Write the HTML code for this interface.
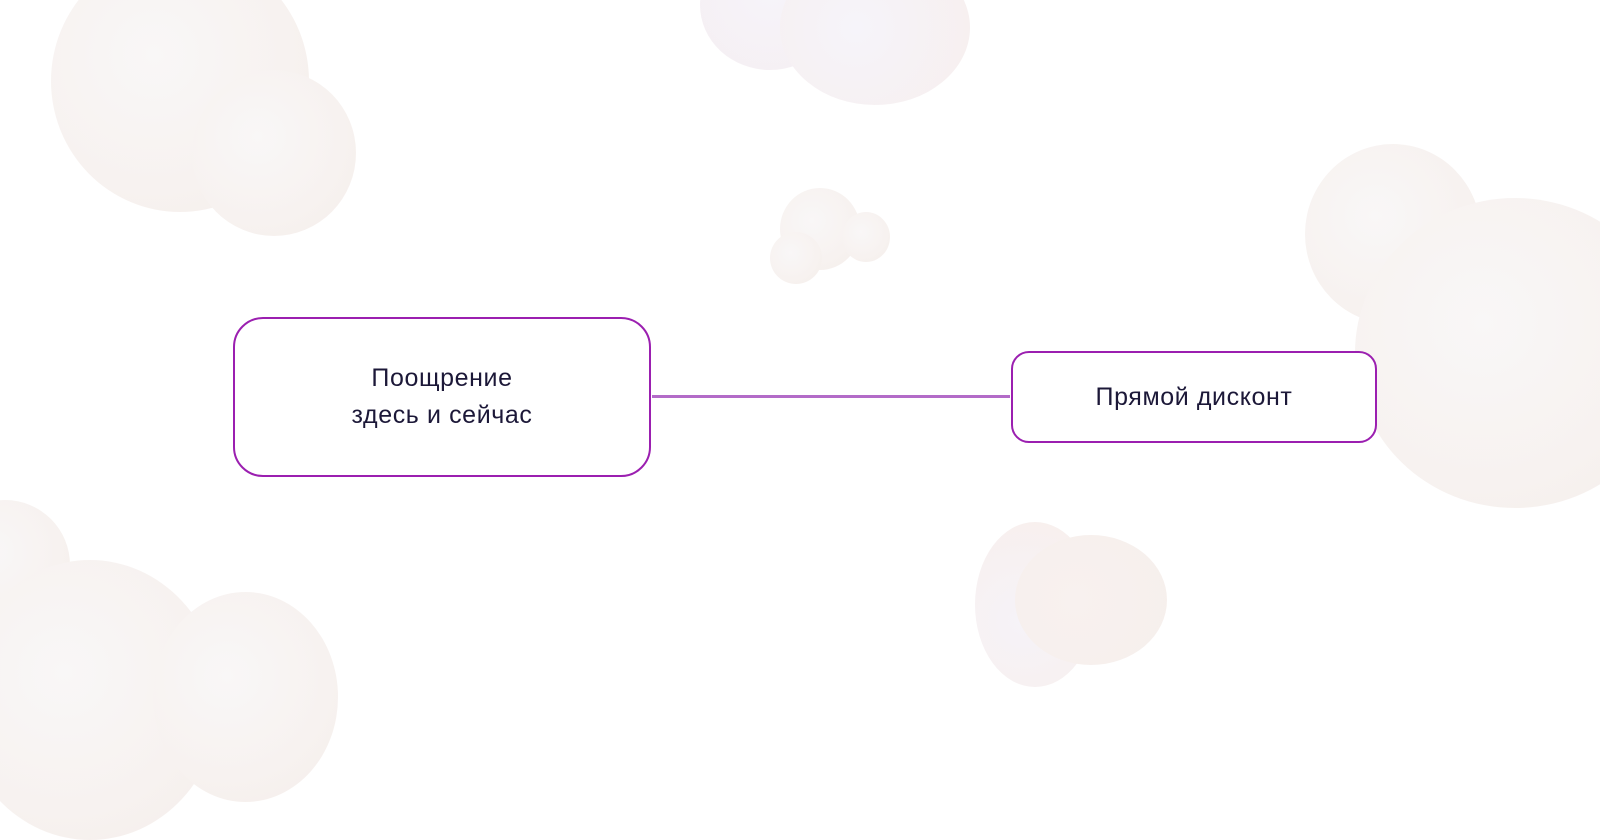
<!DOCTYPE html>
<html><head><meta charset="utf-8"><style>
html,body{margin:0;padding:0;background:#fff;}
body{width:1600px;height:811px;position:relative;overflow:hidden;font-family:"Liberation Sans","DejaVu Sans",sans-serif;}
.c{position:absolute;border-radius:50%;background:radial-gradient(circle at 40% 40%,#f9f7f7 0%,#f7f2f0 60%,#f5eeea 100%);}
.box{position:absolute;border:2px solid #9b1fb0;background:#fff;display:flex;align-items:center;justify-content:center;text-align:center;color:#1c1838;font-size:25px;letter-spacing:0.6px;line-height:37px;box-sizing:border-box;}
</style></head><body>
<div class="c" style="left:51px;top:-50px;width:258px;height:262px"></div>
<div class="c" style="left:192px;top:70px;width:164px;height:166px"></div>
<div class="c" style="left:700px;top:-60px;width:140px;height:130px;background:radial-gradient(circle at 50% 40%,#f6f4fa,#f5eff2)"></div>
<div class="c" style="left:780px;top:-50px;width:190px;height:155px;background:radial-gradient(circle at 40% 50%,#f6f4fa,#f7efee)"></div>
<div class="c" style="left:780px;top:188px;width:80px;height:82px"></div>
<div class="c" style="left:770px;top:232px;width:52px;height:52px"></div>
<div class="c" style="left:842px;top:212px;width:48px;height:50px"></div>
<div class="c" style="left:1305px;top:144px;width:176px;height:180px"></div>
<div class="c" style="left:1355px;top:198px;width:320px;height:310px"></div>
<div class="c" style="left:-60px;top:500px;width:130px;height:130px"></div>
<div class="c" style="left:-40px;top:560px;width:260px;height:280px"></div>
<div class="c" style="left:153px;top:592px;width:185px;height:210px"></div>
<div class="c" style="left:975px;top:522px;width:120px;height:165px;background:radial-gradient(circle at 40% 60%,#f6f3f8,#f8efec)"></div>
<div class="c" style="left:1015px;top:535px;width:152px;height:130px;background:radial-gradient(circle at 40% 50%,#f8f1ef,#f6efec)"></div>
<div style="position:absolute;left:652px;top:395px;width:358px;height:3px;background:#b36bc8"></div>
<div class="box" style="left:233px;top:317px;width:418px;height:160px;border-radius:30px">Поощрение<br>здесь и сейчас</div>
<div class="box" style="left:1011px;top:351px;width:366px;height:92px;border-radius:18px">Прямой дисконт</div>
</body></html>
